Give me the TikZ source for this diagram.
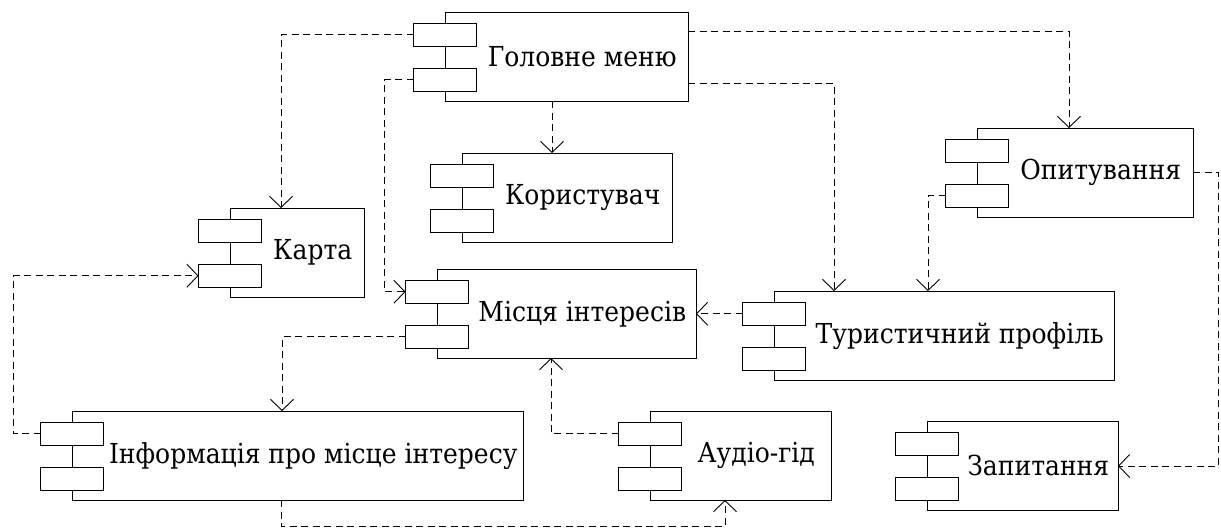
\documentclass[tikz,border=0pt]{standalone}
\usepackage{fontspec}
\newfontfamily\lblfont{DejaVu Serif}[FakeStretch=0.91]
\usetikzlibrary{arrows.meta}

\tikzset{
  body/.style={draw, line width=0.9pt, inner sep=0pt, outer sep=0pt, fill=white, minimum height=89pt},
  port/.style={draw, line width=0.9pt, inner sep=0pt, outer sep=0pt, fill=white, minimum width=63pt, minimum height=22.5pt},
  lbl/.style={inner sep=0pt, font=\lblfont\fontsize{27.5}{32}\selectfont},
  dep/.style={line width=0.9pt, dash pattern=on 7pt off 4.5pt,
    -{Straight Barb[length=11pt,width=23pt,line width=0.9pt]}}
}

% component: name, left x, top y, right x, label
\newcommand{\umlcomp}[5]{%
  \node[body, anchor=north west, minimum width={(#4-#2)*1pt}] (#1) at (#2,#3) {};
  \node[port, anchor=north west] (#1a) at (#2-31.5,#3+11.5) {};
  \node[port, anchor=north west] (#1b) at (#2-31.5,#3+56.5) {};
  \node[lbl] (#1t) at ({(#2+31.5+#4)/2},#3+44.75) {#5};
}

\begin{document}
\begin{tikzpicture}[x=1pt,y=-1pt]
\useasboundingbox (0,0) rectangle (1221,528);

\umlcomp{gm}{445}{12}{688}{Головне меню}
\umlcomp{kor}{462}{153}{672}{Користувач}
\umlcomp{karta}{230}{208}{364}{Карта}
\umlcomp{mis}{437}{269}{696}{Місця інтересів}
\umlcomp{tur}{774}{291}{1114}{Туристичний профіль}
\umlcomp{opyt}{977}{128}{1193}{Опитування}
\umlcomp{info}{72}{411}{523}{Інформація про місце інтересу}
\umlcomp{audio}{650}{411}{831}{Аудіо-гід}
\umlcomp{zap}{927}{421}{1118}{Запитання}

% dependencies
\draw[dep] (gma.west) -| ([xshift=51pt]karta.north west);
\draw[dep] (gmb.west) -- ([xshift=-21pt]misa.west |- gmb.west) |- (misa.west);
\draw[dep] ([xshift=90pt]kor.north west |- gm.south) -- ([xshift=90pt]kor.north west);
\draw[dep] ([yshift=-19pt]gm.north east) -| ([xshift=92pt]opyt.north west);
\draw[dep] ([yshift=-71pt]gm.north east) -| ([xshift=60pt]tur.north west);
\draw[dep] (opytb.west) -| ([xshift=154pt]tur.north west);
\draw[dep] ([yshift=-44pt]opyt.north east) -- ++(25pt,0) |- ([yshift=-45pt]zap.north east);
\draw[dep] (tura.west) -- (tura.west -| mis.east);
\draw[dep] (misb.west) -| ([xshift=210pt]info.north west);
\draw[dep] (infoa.west) -- ++(-27pt,0) |- (kartab.west);
\draw[dep] ([xshift=209pt]info.south west) -- ++(0,-26pt) -| ([xshift=75pt]audio.south west);
\draw[dep] (audioa.west) -| ([xshift=114pt]mis.south west);

\end{tikzpicture}
\end{document}
